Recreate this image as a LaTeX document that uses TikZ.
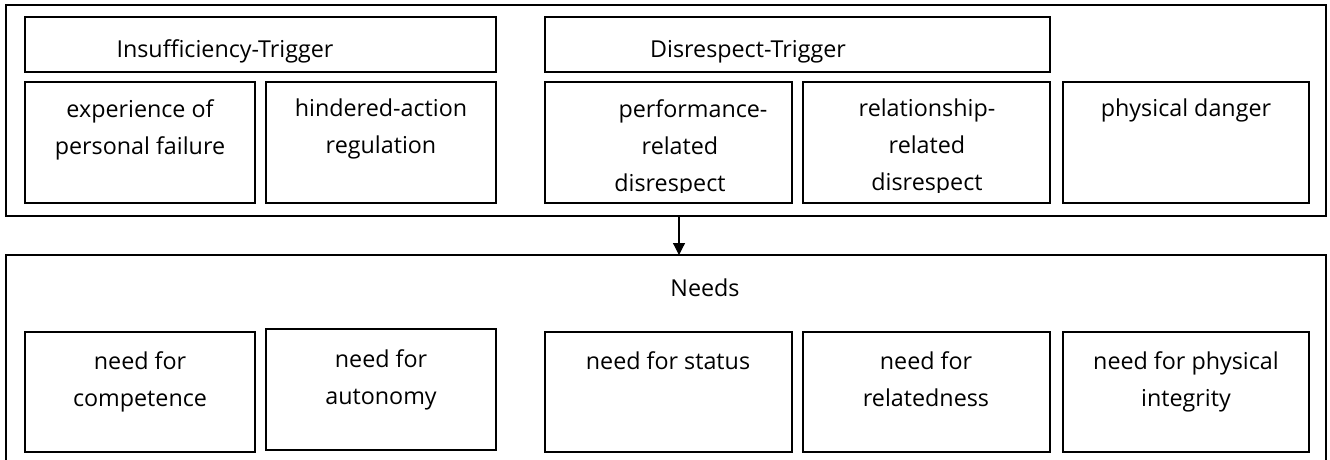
\documentclass[tikz,border=0pt]{standalone}
\usepackage{fontspec}
\setmainfont{Open Sans}
\usetikzlibrary{arrows.meta}
\begin{document}
\begin{tikzpicture}[x=1pt,y=-1pt,
  frame/.style={draw, line width=1.2pt, inner sep=0pt, outer sep=0pt, anchor=north west},
  txt/.style={font=\fontsize{23.3}{37}\selectfont, align=center, inner sep=0pt},
  link/.style={-{Triangle[length=12pt,width=12pt]}, line width=1.2pt}
]
\useasboundingbox (0,0) rectangle (1330,459);
\clip (0,0) rectangle (1330,459);

% outer frames
\node[frame, minimum width=1320pt, minimum height=211pt] (trig) at (6,5) {};
\node[frame, minimum width=1320pt, minimum height=215pt] (needs) at (6,255) {};

% trigger headers
\node[frame, minimum width=471pt, minimum height=55pt] (insuf) at (25,17) {};
\node[frame, minimum width=505pt, minimum height=55pt] (disr) at (545,17) {};
\node[txt, anchor=base] (insuf-t) at (225,57) {Insufficiency-Trigger};
\node[txt, anchor=base] (disr-t) at (748,57) {Disrespect-Trigger};

% trigger boxes
\node[frame, minimum width=230pt, minimum height=121pt] (t1) at (25,82) {};
\node[frame, minimum width=230pt, minimum height=121pt] (t2) at (266,82) {};
\node[frame, minimum width=247pt, minimum height=121pt] (t3) at (545,82) {};
\node[frame, minimum width=247pt, minimum height=121pt] (t4) at (803,82) {};
\node[frame, minimum width=246pt, minimum height=121pt] (t5) at (1063,82) {};

\node[txt, anchor=north] (t1-t) at (140,99) {experience of\\personal failure};
\node[txt, anchor=north] (t2-t) at (381,99) {hindered-action\\regulation};
\begin{scope}
  \clip (545,82) rectangle (1050,192);
  \node[txt, anchor=north] (t3-t) at (670,99) {\hspace*{46pt}performance-\\\hspace*{20pt}related\\disrespect};
  \node[txt, anchor=north] (t4-t) at (927,99) {relationship-\\related\\disrespect};
\end{scope}
\node[txt, anchor=north] (t5-t) at (1186,99) {physical danger};

% needs
\node[txt, anchor=base] (needs-t) at (705,296) {Needs};
\node[frame, minimum width=230pt, minimum height=120pt] (n1) at (25,332) {};
\node[frame, minimum width=230pt, minimum height=121pt] (n2) at (266,329) {};
\node[frame, minimum width=247pt, minimum height=120pt] (n3) at (545,332) {};
\node[frame, minimum width=247pt, minimum height=120pt] (n4) at (803,332) {};
\node[frame, minimum width=246pt, minimum height=120pt] (n5) at (1063,332) {};

\node[txt, anchor=north] (n1-t) at (140,351) {need for\\competence};
\node[txt, anchor=north] (n2-t) at (381,349) {need for\\autonomy};
\node[txt, anchor=north] (n3-t) at (668,351) {need for status};
\node[txt, anchor=north] (n4-t) at (926,351) {need for\\relatedness};
\node[txt, anchor=north] (n5-t) at (1186,351) {need for physical\\integrity};

% connector
\coordinate (ax) at (679,0);
\draw[link] (trig.south -| ax) -- (needs.north -| ax);
\end{tikzpicture}
\end{document}
